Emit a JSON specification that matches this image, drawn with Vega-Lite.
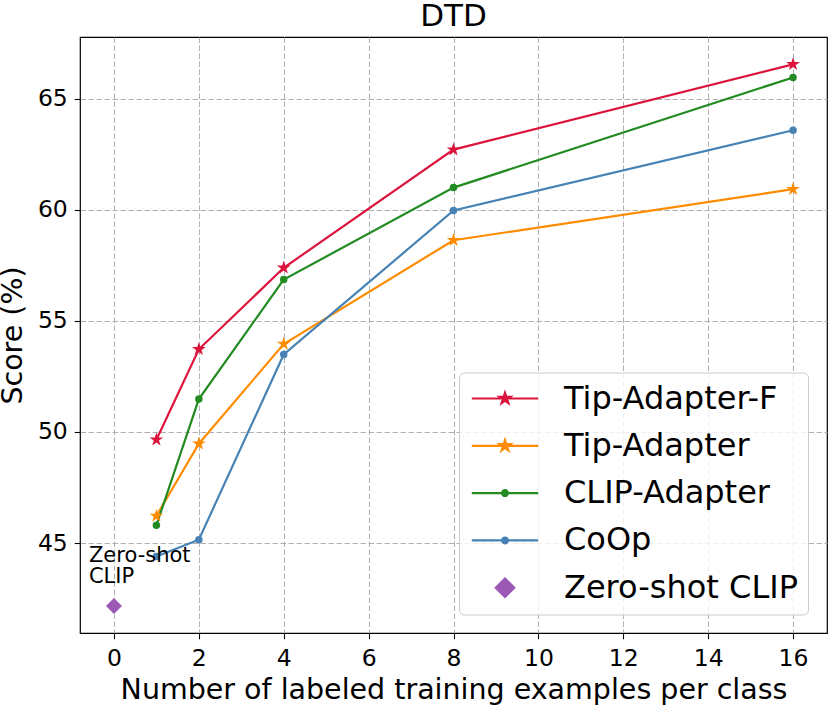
{
  "$schema": "https://vega.github.io/schema/vega-lite/v6.json",
  "width": 747,
  "height": 596,
  "autosize": {"type": "none"},
  "padding": {"left": 80, "top": 37, "right": 3, "bottom": 73},
  "background": "white",
  "title": {"text": "DTD", "font": "DejaVu Sans", "fontSize": 31, "fontWeight": "normal", "color": "black", "offset": 4, "anchor": "middle", "frame": "group"},
  "config": {
    "view": {"stroke": "black", "strokeWidth": 1.2},
    "font": "DejaVu Sans",
    "axis": {
      "domain": false,
      "grid": true,
      "gridColor": "#b0b0b0",
      "gridDash": [5.5, 2.5],
      "gridWidth": 1,
      "tickColor": "black",
      "tickSize": 5.7,
      "tickWidth": 1.1,
      "labelFont": "DejaVu Sans",
      "labelFontSize": 23.5,
      "labelColor": "black",
      "titleFont": "DejaVu Sans",
      "titleFontSize": 28.5,
      "titleFontWeight": "normal",
      "titleColor": "black"
    }
  },
  "data": {
    "values": [
      {"method": "Tip-Adapter-F", "shots": 1, "score": 49.65},
      {"method": "Tip-Adapter-F", "shots": 2, "score": 53.72},
      {"method": "Tip-Adapter-F", "shots": 4, "score": 57.39},
      {"method": "Tip-Adapter-F", "shots": 8, "score": 62.71},
      {"method": "Tip-Adapter-F", "shots": 16, "score": 66.55},
      {"method": "Tip-Adapter", "shots": 1, "score": 46.22},
      {"method": "Tip-Adapter", "shots": 2, "score": 49.47},
      {"method": "Tip-Adapter", "shots": 4, "score": 53.96},
      {"method": "Tip-Adapter", "shots": 8, "score": 58.63},
      {"method": "Tip-Adapter", "shots": 16, "score": 60.93},
      {"method": "CLIP-Adapter", "shots": 1, "score": 45.8},
      {"method": "CLIP-Adapter", "shots": 2, "score": 51.48},
      {"method": "CLIP-Adapter", "shots": 4, "score": 56.86},
      {"method": "CLIP-Adapter", "shots": 8, "score": 61.0},
      {"method": "CLIP-Adapter", "shots": 16, "score": 65.96},
      {"method": "CoOp", "shots": 1, "score": 44.39},
      {"method": "CoOp", "shots": 2, "score": 45.15},
      {"method": "CoOp", "shots": 4, "score": 53.49},
      {"method": "CoOp", "shots": 8, "score": 59.97},
      {"method": "CoOp", "shots": 16, "score": 63.58},
      {"method": "Zero-shot CLIP", "shots": 0, "score": 42.17}
    ]
  },
  "encoding": {
    "x": {
      "field": "shots", "type": "quantitative",
      "scale": {"domain": [-0.8, 16.8], "nice": false, "zero": false},
      "axis": {"values": [0, 2, 4, 6, 8, 10, 12, 14, 16], "title": "Number of labeled training examples per class", "labelBaseline": "alphabetic", "labelPadding": 26.3, "titleY": 65, "titleBaseline": "alphabetic"}
    },
    "y": {
      "field": "score", "type": "quantitative",
      "scale": {"domain": [40.95, 67.78], "nice": false, "zero": false},
      "axis": {"values": [45, 50, 55, 60, 65], "title": "Score (%)", "labelPadding": 7, "titleX": -59, "titleBaseline": "alphabetic"}
    }
  },
  "layer": [
    {
      "transform": [{"filter": "datum.method != 'Zero-shot CLIP'"}],
      "mark": {"type": "line", "strokeWidth": 2.2},
      "encoding": {
        "stroke": {
          "field": "method", "type": "nominal",
          "scale": {"domain": ["Tip-Adapter-F", "Tip-Adapter", "CLIP-Adapter", "CoOp", "Zero-shot CLIP"], "range": ["#DC143C", "#FF8C00", "#228B22", "#4682B4", "#9B59B6"]},
          "legend": {
            "title": null, "orient": "none", "legendX": 379, "legendY": 335.5, "padding": 10,
            "symbolOffset": 20, "labelOffset": 43, "rowPadding": 15.3,
            "labelFont": "DejaVu Sans", "labelFontSize": 32, "labelColor": "black", "labelLimit": 400,
            "fillColor": "rgba(255,255,255,0.8)", "strokeColor": "#cccccc", "cornerRadius": 5,
            "symbolSize": 180, "symbolStrokeWidth": 2.2, "symbolOpacity": 1
          }
        }
      }
    },
    {
      "transform": [{"filter": "datum.method == 'Tip-Adapter-F' || datum.method == 'Tip-Adapter'"}],
      "mark": {"type": "point", "filled": true, "opacity": 1, "size": 205, "shape": "M0,-1L0.225,-0.309L0.951,-0.309L0.363,0.118L0.588,0.809L0,0.382L-0.588,0.809L-0.363,0.118L-0.951,-0.309L-0.225,-0.309Z"},
      "encoding": {
        "fill": {
          "field": "method", "type": "nominal",
          "scale": {"domain": ["Tip-Adapter-F", "Tip-Adapter", "CLIP-Adapter", "CoOp", "Zero-shot CLIP"], "range": ["#DC143C", "#FF8C00", "#228B22", "#4682B4", "#9B59B6"]},
          "legend": {
            "title": null, "orient": "none", "legendX": 379, "legendY": 335.5, "padding": 10,
            "symbolOffset": 20, "labelOffset": 43, "rowPadding": 15.3,
            "labelFont": "DejaVu Sans", "labelFontSize": 32, "labelColor": "black", "labelLimit": 400,
            "fillColor": "rgba(255,255,255,0.8)", "strokeColor": "#cccccc", "cornerRadius": 5,
            "symbolSize": 180, "symbolStrokeWidth": 2.2, "symbolOpacity": 1
          }
        }
      }
    },
    {
      "transform": [{"filter": "datum.method == 'CLIP-Adapter' || datum.method == 'CoOp'"}],
      "mark": {"type": "point", "filled": true, "opacity": 1, "size": 56, "shape": "circle"},
      "encoding": {
        "fill": {"field": "method", "type": "nominal"}
      }
    },
    {
      "transform": [{"filter": "datum.method == 'Zero-shot CLIP'"}],
      "mark": {"type": "point", "filled": true, "opacity": 1, "size": 256, "shape": "diamond"},
      "encoding": {
        "fill": {"field": "method", "type": "nominal"}
      }
    },
    {
      "transform": [{"filter": "false"}],
      "mark": {"type": "point", "filled": true, "opacity": 1, "size": 180, "strokeWidth": 2.2},
      "encoding": {
        "fill": {"field": "method", "type": "nominal"},
        "stroke": {"field": "method", "type": "nominal"},
        "shape": {
          "field": "method", "type": "nominal",
          "scale": {"domain": ["Tip-Adapter-F", "Tip-Adapter", "CLIP-Adapter", "CoOp", "Zero-shot CLIP"], "range": [
            "M-4.95,0H4.95M0,-0.85L0.191,-0.263L0.808,-0.263L0.309,0.1L0.5,0.688L0,0.325L-0.5,0.688L-0.309,0.1L-0.808,-0.263L-0.191,-0.263Z",
            "M-4.95,0H4.95M0,-0.85L0.191,-0.263L0.808,-0.263L0.309,0.1L0.5,0.688L0,0.325L-0.5,0.688L-0.309,0.1L-0.808,-0.263L-0.191,-0.263Z",
            "M-4.95,0H4.95M-0.43,0A0.43,0.43 0 1,0 0.43,0A0.43,0.43 0 1,0 -0.43,0Z",
            "M-4.95,0H4.95M-0.43,0A0.43,0.43 0 1,0 0.43,0A0.43,0.43 0 1,0 -0.43,0Z",
            "M-1.38,0L0,-1.38L1.38,0L0,1.38Z"
          ]},
          "legend": {
            "title": null, "orient": "none", "legendX": 379, "legendY": 335.5, "padding": 10,
            "symbolOffset": 20, "labelOffset": 43, "rowPadding": 15.3,
            "labelFont": "DejaVu Sans", "labelFontSize": 32, "labelColor": "black", "labelLimit": 400,
            "fillColor": "rgba(255,255,255,0.8)", "strokeColor": "#cccccc", "cornerRadius": 5,
            "symbolSize": 180, "symbolStrokeWidth": 2.2, "symbolOpacity": 1
          }
        }
      }
    },
    {
      "transform": [{"filter": "datum.method == 'Zero-shot CLIP'"}],
      "mark": {"type": "text", "align": "left", "baseline": "alphabetic", "dx": -25, "dy": -43.4, "fontSize": 21, "lineHeight": 21, "font": "DejaVu Sans", "color": "black"},
      "encoding": {
        "text": {"value": ["Zero-shot", "CLIP"]}
      }
    }
  ]
}
